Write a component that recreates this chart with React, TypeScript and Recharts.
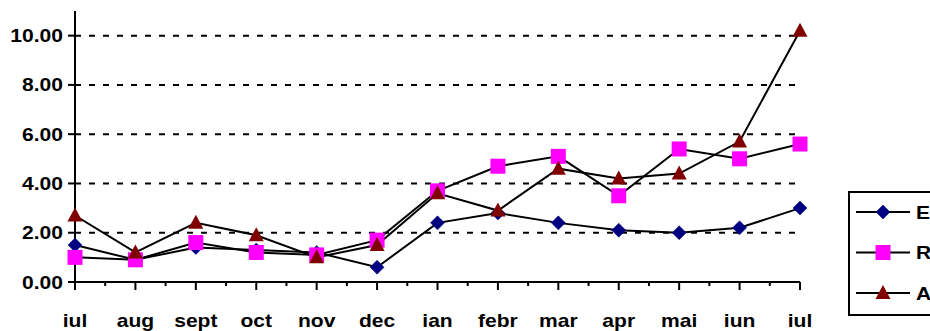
import React from 'react';
import { LineChart, Line, XAxis, YAxis, CartesianGrid, Legend } from 'recharts';

// Months along the horizontal axis (July through the following July)
const months = ['iul', 'aug', 'sept', 'oct', 'nov', 'dec', 'ian', 'febr', 'mar', 'apr', 'mai', 'iun', 'iul'];

// Series values
const seriesE = [1.5, 0.9, 1.4, 1.3, 1.2, 0.6, 2.4, 2.8, 2.4, 2.1, 2.0, 2.2, 3.0];
const seriesR = [1.0, 0.9, 1.6, 1.2, 1.1, 1.7, 3.7, 4.7, 5.1, 3.5, 5.4, 5.0, 5.6];
const seriesA = [2.7, 1.2, 2.4, 1.9, 1.0, 1.5, 3.6, 2.9, 4.6, 4.2, 4.4, 5.7, 10.2];

// Axis ticks
const yTicks = [0, 2, 4, 6, 8, 10];
const gridValues = [2, 4, 6, 8, 10];
const xTicks = months.flatMap((_, i) => (i < months.length - 1 ? [i, i + 0.5] : [i]));

const data = months.map((m, i) => ({ idx: i, month: m, E: seriesE[i], R: seriesR[i], A: seriesA[i] }));

const FONT = '"Liberation Sans", Arial, sans-serif';
const FONT_SIZE = 18;
const STRETCH = 1.17; // wide bold lettering
const NAVY = '#000080';
const MAGENTA = '#FF00FF';
const MAROON = '#800000';

const Label = ({ x, y, anchor, children }: any) => (
  <text
    transform={`translate(${x},${y}) scale(${STRETCH},1)`}
    textAnchor={anchor}
    fontFamily={FONT}
    fontWeight="bold"
    fontSize={FONT_SIZE}
    fill="#000"
  >
    {children}
  </text>
);

const Diamond = ({ cx, cy }: any) => (
  <path d={`M${cx},${cy - 7} L${cx + 7},${cy} L${cx},${cy + 7} L${cx - 7},${cy} Z`} fill={NAVY} stroke={NAVY} strokeWidth={0.5} />
);
const Square = ({ cx, cy }: any) => (
  <rect x={cx - 7.5} y={cy - 7.5} width={15} height={15} fill={MAGENTA} />
);
const Triangle = ({ cx, cy }: any) => (
  <path d={`M${cx},${cy - 8} L${cx + 7.5},${cy + 6} L${cx - 7.5},${cy + 6} Z`} fill={MAROON} />
);

const renderDot = (Shape: any) => (props: any) => {
  const { cx, cy, index } = props;
  if (cx == null || cy == null) return <g key={index} />;
  return <Shape key={index} cx={cx} cy={cy} />;
};

// Month labels on whole ticks, short unlabelled minor ticks at the half steps
const MonthTick = (props: any) => {
  const { x, y, payload } = props;
  const v = payload.value;
  const major = Number.isInteger(v);
  return (
    <g>
      <line x1={x} x2={x} y1={y} y2={y + (major ? 8 : 4)} stroke="#000" strokeWidth={2} />
      {major && <Label x={x} y={y + 45} anchor="middle">{months[v]}</Label>}
    </g>
  );
};

const ValueTick = (props: any) => {
  const { x, y, payload } = props;
  return <Label x={x} y={y + 6.5} anchor="end">{Number(payload.value).toFixed(2)}</Label>;
};

const legendItems = [
  { name: 'E', Shape: Diamond },
  { name: 'R', Shape: Square },
  { name: 'A', Shape: Triangle },
];

const LegendBox = () => (
  <svg width={120} height={126} style={{ display: 'block', overflow: 'visible' }}>
    <rect x={1} y={1} width={130} height={123} fill="#fff" stroke="#000" strokeWidth={2} />
    {legendItems.map((it, i) => {
      const cy = 21 + i * 40.5;
      return (
        <g key={it.name}>
          <line x1={8} x2={62} y1={cy} y2={cy} stroke="#000" strokeWidth={2} />
          <it.Shape cx={35} cy={cy} />
          <Label x={68} y={cy + 6.5} anchor="start">{it.name}</Label>
        </g>
      );
    })}
  </svg>
);

export default function App() {
  return (
    <div style={{ position: 'absolute', left: 0, top: 0, width: 930, height: 331, overflow: 'hidden', background: '#fff' }}>
      <LineChart width={930} height={331} data={data} margin={{ top: 11, right: 130, bottom: 0, left: 0 }}>
        <CartesianGrid
          vertical={false}
          horizontalValues={gridValues}
          stroke="#000"
          strokeWidth={2}
          strokeDasharray="6 8"
        />
        <XAxis
          dataKey="idx"
          type="number"
          domain={[0, 12]}
          ticks={xTicks}
          interval={0}
          allowDecimals
          height={49}
          axisLine={{ stroke: '#000', strokeWidth: 2 }}
          tickLine={false}
          tickSize={0}
          tickMargin={0}
          tick={<MonthTick />}
        />
        <YAxis
          type="number"
          domain={[0, 11]}
          ticks={yTicks}
          interval={0}
          width={75}
          axisLine={{ stroke: '#000', strokeWidth: 2 }}
          tickLine={{ stroke: '#000', strokeWidth: 2 }}
          tickSize={7}
          tickMargin={5}
          tick={<ValueTick />}
        />
        <Line dataKey="E" name="E" stroke="#000" strokeWidth={2} dot={renderDot(Diamond)} isAnimationActive={false} />
        <Line dataKey="R" name="R" stroke="#000" strokeWidth={2} dot={renderDot(Square)} isAnimationActive={false} />
        <Line dataKey="A" name="A" stroke="#000" strokeWidth={2} dot={renderDot(Triangle)} isAnimationActive={false} />
        <Legend
          layout="vertical"
          align="center"
          verticalAlign="middle"
          content={() => <LegendBox />}
          wrapperStyle={{ left: 848, top: 191, width: 120, height: 126 }}
        />
      </LineChart>
    </div>
  );
}
